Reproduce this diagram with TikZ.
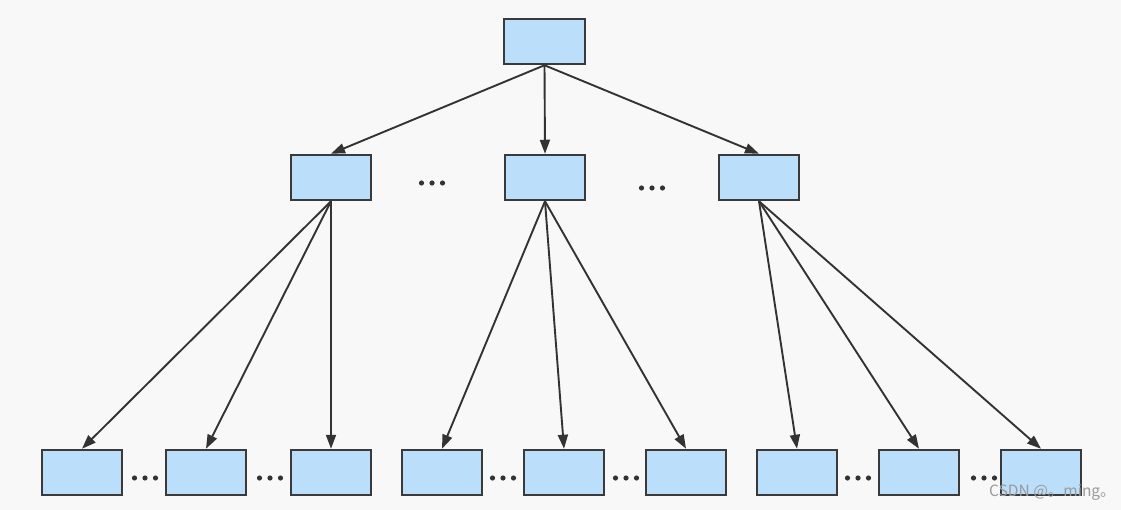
\documentclass[tikz,border=0pt]{standalone}
\usepackage{fontspec}
\newfontfamily\cjk{Noto Sans CJK SC}
\usetikzlibrary{arrows.meta}
\definecolor{bg}{HTML}{F8F8F8}
\definecolor{boxfill}{HTML}{BBDEFA}
\definecolor{boxline}{HTML}{3A3A3A}
\definecolor{arr}{HTML}{333333}
\definecolor{wm}{HTML}{9A9A9A}
\tikzset{
  treebox/.style={draw=boxline, fill=boxfill, line width=2pt, minimum width=80.5pt, minimum height=45.5pt, inner sep=0pt},
  edge/.style={draw=arr, line width=1.9pt, -{Triangle[length=14pt,width=10pt]}},
  dotmark/.style={fill=arr, draw=none},
}
\begin{document}
\begin{tikzpicture}[x=1pt,y=-1pt]
\fill[bg] (0,0) rectangle (1121,510);
\useasboundingbox (0,0) rectangle (1121,510);
% nodes
\node[treebox] (root) at (544.5,41.5) {};
\node[treebox] (m1) at (331,177.5) {};
\node[treebox] (m2) at (545,177.5) {};
\node[treebox] (m3) at (759,177.5) {};
\foreach \n/\x in {b1/82,b2/206,b3/331,b4/442,b5/564,b6/686,b7/797,b8/919,b9/1041}
  \node[treebox] (\n) at (\x,472.5) {};
% edges
\foreach \c in {m1,m2,m3} \draw[edge] (root.south) -- (\c.north);
\foreach \c in {b1,b2,b3} \draw[edge] (m1.south) -- (\c.north);
\foreach \c in {b4,b5,b6} \draw[edge] (m2.south) -- (\c.north);
\foreach \c in {b7,b8,b9} \draw[edge] (m3.south) -- (\c.north);
% ellipses
\foreach \x/\y in {432/183,652/188,145/478,270/478,503/478,626/478,858/478,984/478}
  \foreach \d in {-10.5,0,10.5}
    \fill[dotmark] (\x+\d,\y) circle (2.6pt);
% watermark
\node[anchor=west, text=wm, inner sep=0pt, font=\cjk\fontsize{15.5pt}{16pt}\selectfont] (wmk) at (989,492) {CSDN @。ming。};
\end{tikzpicture}
\end{document}
